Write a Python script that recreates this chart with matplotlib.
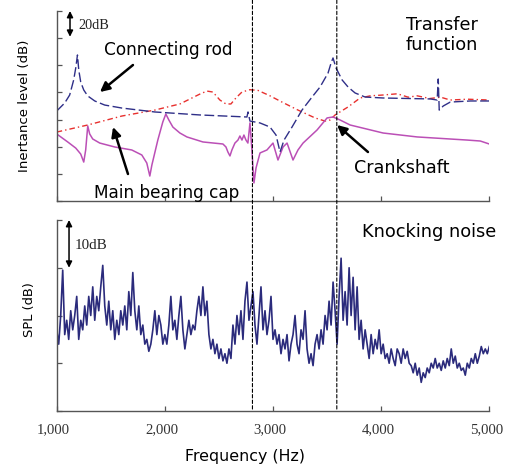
import numpy as np
import matplotlib
matplotlib.use("Agg")
import matplotlib.pyplot as plt
import matplotlib.transforms as mtransforms
from matplotlib.patches import ConnectionPatch

# ---------------- data ----------------
# Transfer functions (inertance level, dB, arbitrary offset)
rod_f = [1000, 1074, 1120, 1157, 1176, 1192, 1204, 1222, 1250, 1287, 1352, 1444, 1602,
         1907, 2324, 2759, 2769, 2787, 2880, 2972, 3028, 3065, 3102, 3176, 3268, 3361,
         3435, 3509, 3537, 3555, 3583, 3639, 3694, 3759, 3852, 4018, 4454, 4518, 4528,
         4537, 4574, 4639, 4824, 5000]
rod_v = [66.3, 72.2, 78.1, 89.2, 98.0, 107.6, 96.5, 87.7, 81.8, 77.4, 73.7, 70.7, 68.5,
         65.6, 63.4, 61.9, 65.6, 58.9, 57.5, 54.5, 48.6, 36.1, 44.9, 54.5, 67.0, 76.6,
         84.0, 94.3, 101.7, 105.4, 98.0, 89.2, 84.0, 79.6, 76.6, 75.9, 75.2, 74.4, 89.9,
         67.0, 70.0, 72.9, 73.7, 73.7]

crank_f = [1000, 1102, 1176, 1222, 1250, 1268, 1287, 1305, 1333, 1398, 1537, 1694, 1787,
           1833, 1861, 1880, 1935, 1981, 2009, 2037, 2074, 2139, 2204, 2352, 2537, 2565,
           2583, 2602, 2620, 2648, 2676, 2694, 2713, 2731, 2750, 2768, 2787, 2805, 2824,
           2843, 2880, 2944, 3000, 3046, 3093, 3130, 3185, 3231, 3278, 3407, 3500, 3555,
           3620, 3713, 4018, 4333, 4796, 4917, 5000]
crank_v = [49.4, 43.5, 39.0, 34.6, 28.7, 37.6, 55.3, 49.4, 45.7, 42.7, 39.8, 37.6, 33.9,
           28.0, 18.4, 26.5, 44.9, 58.2, 64.1, 59.7, 54.5, 50.1, 47.2, 43.5, 42.0, 39.8,
           36.1, 33.2, 37.6, 42.7, 44.9, 47.9, 44.9, 48.6, 44.9, 42.7, 57.5, 37.6, 13.3,
           24.3, 35.4, 37.6, 42.7, 30.2, 39.8, 42.7, 30.2, 37.6, 42.7, 52.3, 61.2, 61.9,
           59.7, 56.0, 50.1, 47.2, 44.9, 44.2, 42.0]

cap_f = [1000, 1287, 1602, 1907, 2139, 2324, 2389, 2444, 2509, 2565, 2611, 2657, 2713,
         2787, 2861, 2972, 3083, 3231, 3389, 3481, 3528, 3574, 3694, 3805, 3900, 4018,
         4150, 4250, 4333, 4450, 4550, 4639, 4800, 5000]
cap_v = [50.8, 56.0, 62.6, 67.0, 71.5, 78.8, 81.0, 80.3, 74.4, 71.5, 71.5, 75.9, 80.3,
         82.0, 81.5, 77.5, 72.9, 67.0, 61.2, 58.9, 59.7, 63.4, 69.3, 75.9, 77.5, 78.1,
         79.0, 76.5, 77.5, 75.5, 76.5, 74.4, 75.0, 74.4]

# Knocking noise SPL (dB, arbitrary offset), uniform frequency bins 1000-5000 Hz
spl = [17, 14, 20, 29.5, 16, 19, 15, 21, 17, 20, 24, 15, 19, 17, 22, 18, 24, 20, 26, 19,
       24, 21, 26, 30.5, 22, 18, 23, 17, 21, 15, 19, 16, 21, 18, 22, 17, 25, 20, 29, 21,
       17, 22, 16, 18, 14, 15, 12.5, 14, 17, 21, 16, 20, 18, 14, 16, 14, 18, 24, 17, 19,
       15, 20, 24, 17, 13, 16, 19, 16, 18, 17, 21, 24, 20, 26, 20, 23, 16, 13, 15, 12,
       14, 11, 13, 10.5, 12, 10, 13, 11, 18, 14, 20, 16, 21, 15, 23, 27, 19, 22, 25, 18,
       14, 20, 26, 17, 21, 16, 19, 24, 15, 17, 14, 16, 12, 15, 13, 16, 10.5, 14, 16, 20,
       14, 12, 17, 15, 21, 13, 10, 12, 9.5, 14, 16, 13, 17, 14, 20, 17, 23, 18, 27, 21,
       14, 24, 32, 19, 25, 18, 30, 20, 28, 17, 26, 15, 19, 13, 17, 14, 11, 16, 12, 15,
       13, 17, 12, 14, 11, 12, 10, 13, 11, 9.5, 13, 12, 10, 13, 11, 12.5, 10, 9.5, 8, 10,
       7.5, 9, 6, 8, 7, 9, 8, 10, 9, 11, 9, 10, 8.5, 10.5, 9, 11, 9.5, 13, 10, 11.5,
       9, 10, 8.5, 9, 7.5, 10, 9, 11, 10, 12, 10, 11.5, 13.5, 12, 13, 12, 13.5]
spl_f = np.linspace(1000, 5000, len(spl))

mark_f = [2810, 3590]            # dashed reference frequencies
xticks = [1000, 2000, 3000, 4000, 5000]
xticklabels = ["1,000", "2,000", "3,000", "4,000", "5,000"]

# ---------------- style ----------------
ROD = "#2f2f88"
CAP = "#e8302e"
CRANK = "#bb4fb6"
SPLC = "#2b2b7c"
SPINE = "#555555"
SERIF = "Liberation Serif"

W, H = 505, 468
fig = plt.figure(figsize=(W / 100, H / 100), dpi=100)
fig.patch.set_facecolor("white")

def ax_rect(l, t, r, b):
    return [l / W, 1 - b / H, (r - l) / W, (b - t) / H]

ax1 = fig.add_axes(ax_rect(56.7, 11, 489.3, 201))
ax2 = fig.add_axes(ax_rect(56.7, 220, 489.3, 411))

for ax in (ax1, ax2):
    for s in ("top", "right"):
        ax.spines[s].set_visible(False)
    for s in ("left", "bottom"):
        ax.spines[s].set_color(SPINE)
        ax.spines[s].set_linewidth(1.0)
    ax.set_xlim(1000, 5000)
    ax.set_xticks(xticks)
    ax.tick_params(direction="in", length=3.5, width=0.9, color=SPINE)
    ax.set_yticklabels([])
    ax.set_facecolor("none")

ax1.set_ylim(0, 140)
ax1.set_yticks(np.arange(0, 141, 20))
ax1.set_xticklabels([])
ax2.set_ylim(0, 40)
ax2.set_yticks(np.arange(0, 41, 10))
ax2.set_xticklabels(xticklabels, fontfamily=SERIF, fontsize=10.6, color="#333333")
ax2.tick_params(axis="x", pad=9)
shift = mtransforms.ScaledTranslation(-3 / 100, 0, fig.dpi_scale_trans)
for lab in ax2.get_xticklabels():
    lab.set_transform(lab.get_transform() + shift)

# curves
ax1.plot(cap_f, cap_v, color=CAP, lw=1.0, ls=(0, (4, 2.2, 1, 2.2)))
ax1.plot(crank_f, crank_v, color=CRANK, lw=1.1)
ax1.plot(rod_f, rod_v, color=ROD, lw=1.0, ls=(0, (7, 2.5)))
ax2.plot(spl_f, spl, color=SPLC, lw=1.2)

# dashed markers spanning both panels
for f in mark_f:
    con = ConnectionPatch(xyA=(f, 148), coordsA=ax1.transData,
                          xyB=(f, 0), coordsB=ax2.transData,
                          color="black", lw=0.8, ls=(0, (3, 2)))
    con.set_clip_on(False)
    fig.add_artist(con)

# annotations
TXT = dict(fontfamily="DejaVu Sans", color="black")
arr = dict(arrowstyle="-|>", lw=1.8, color="black", mutation_scale=14,
           shrinkA=0, shrinkB=0)
ax1.text(2030, 111.3, "Connecting rod", ha="center", va="center", fontsize=12.2, **TXT)
ax1.annotate("", xy=(1400, 80.3), xytext=(1705, 100.2), arrowprops=arr)
ax1.text(2020, 5.9, "Main bearing cap", ha="center", va="center", fontsize=12.2, **TXT)
ax1.annotate("", xy=(1521, 54.5), xytext=(1659, 19.9), arrowprops=arr,
             annotation_clip=False)
ax1.text(4193, 24.3, "Crankshaft", ha="center", va="center", fontsize=12.6, **TXT)
ax1.annotate("", xy=(3592, 56.0), xytext=(3878, 36.1), arrowprops=arr)
ax1.text(4562, 122.3, "Transfer\nfunction", ha="center", va="center",
         multialignment="center", fontsize=12.8, linespacing=1.15, **TXT)
ax2.text(4442, 37.5, "Knocking noise", ha="center", va="center", fontsize=12.8, **TXT)

# scale bars
sb = dict(arrowstyle="<|-|>", lw=1.1, color="black", mutation_scale=9,
          shrinkA=0, shrinkB=0)
ax1.annotate("", xy=(1123, 140), xytext=(1123, 121), arrowprops=sb,
             annotation_clip=False)
ax1.text(1197, 129.5, "20dB", ha="left", va="center", fontfamily=SERIF,
         fontsize=10.3, color="#222222")
ax2.annotate("", xy=(1114, 40), xytext=(1114, 30), arrowprops=sb,
             annotation_clip=False)
ax2.text(1169, 34.6, "10dB", ha="left", va="center", fontfamily=SERIF,
         fontsize=10.8, color="#222222")

# axis labels
fig.text(24.5 / W, 1 - 106 / H, "Inertance level (dB)", rotation=90, ha="center",
         va="center", fontsize=9.6, **TXT)
fig.text(29.5 / W, 1 - 310 / H, "SPL (dB)", rotation=90, ha="center",
         va="center", fontsize=9.4, **TXT)
fig.text(245 / W, 1 - 456.5 / H, "Frequency (Hz)", ha="center", va="center",
         fontsize=11.4, **TXT)

fig.savefig("out.png", dpi=100, facecolor="white")
